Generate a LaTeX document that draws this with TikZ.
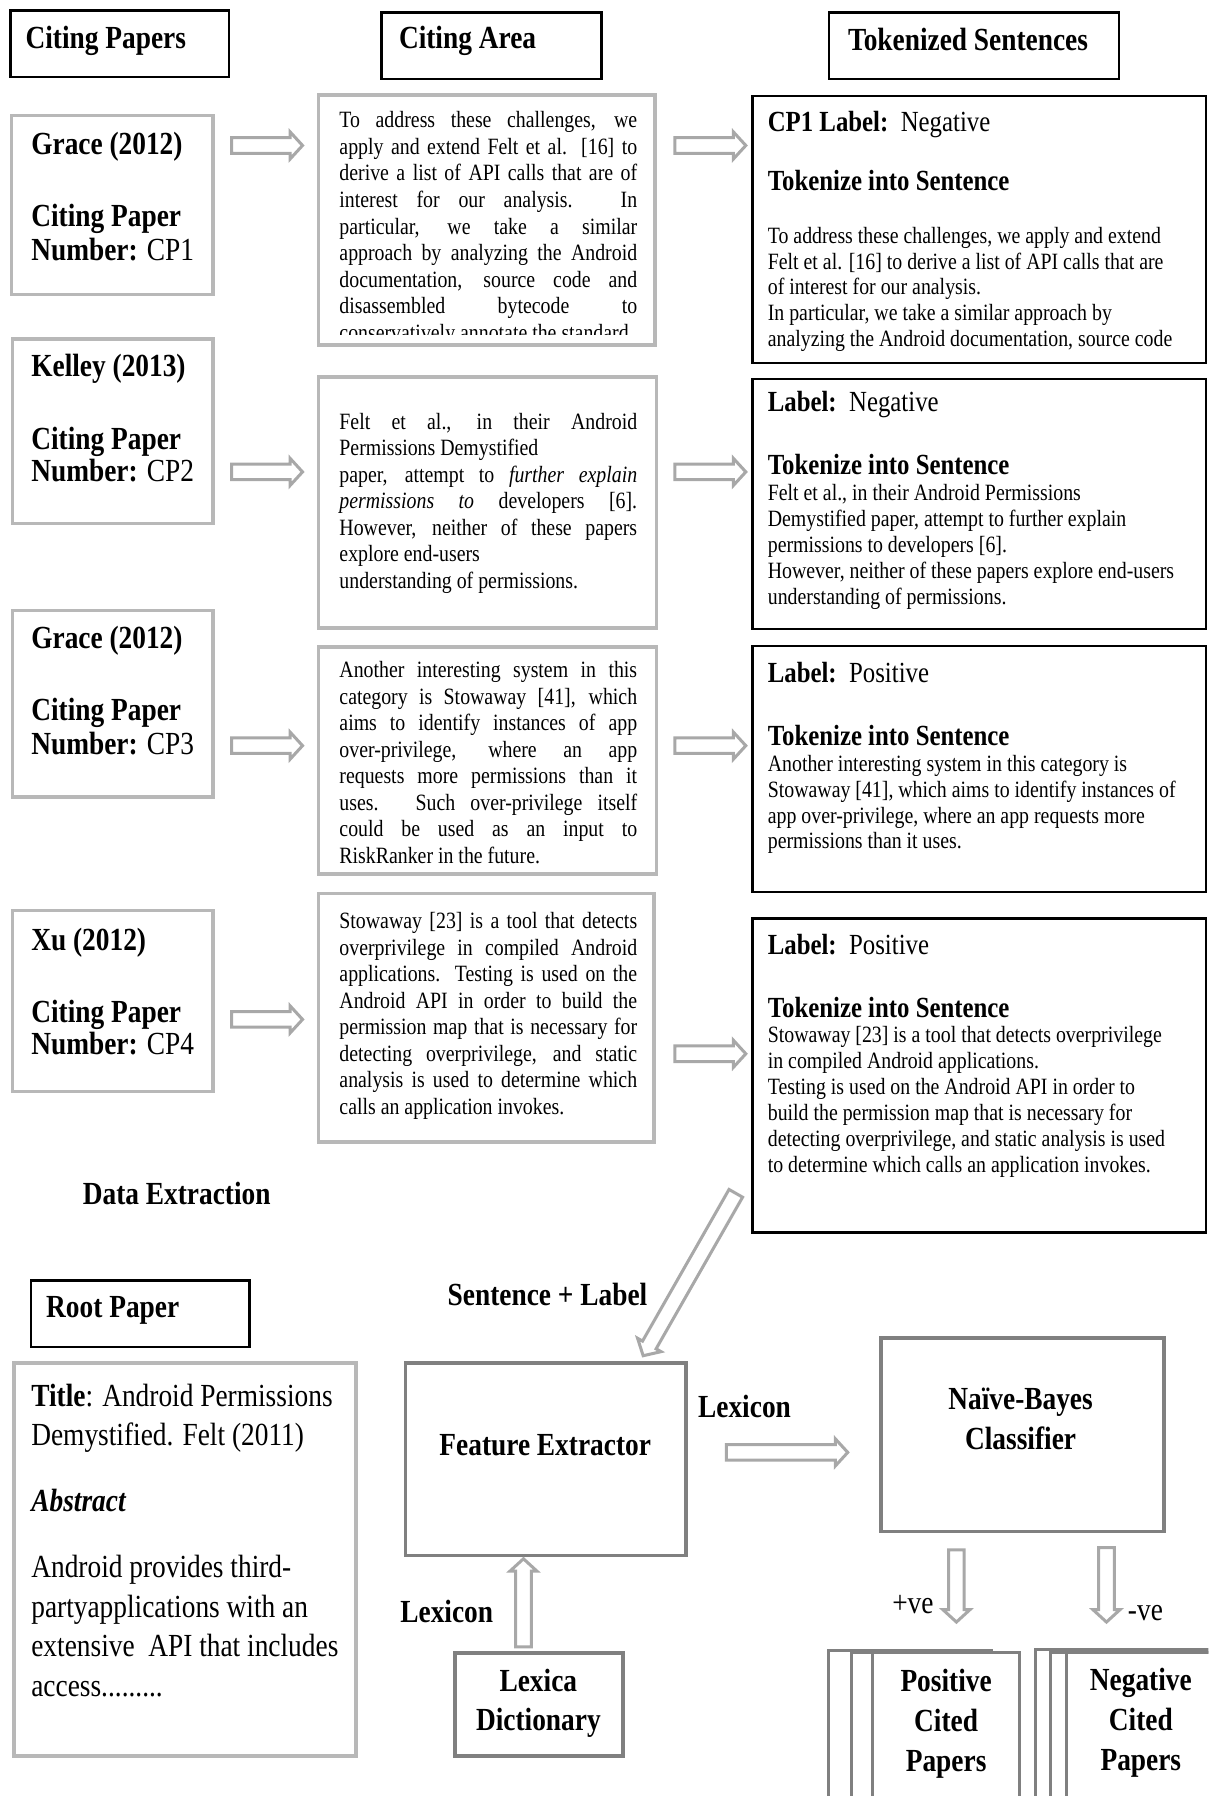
\documentclass[tikz,border=0pt]{standalone}
\usepackage{fontspec}
\setmainfont[FakeStretch=0.85]{Liberation Serif}
\usetikzlibrary{shapes.arrows,calc,fit}
\definecolor{lgray}{RGB}{184,184,184}
\definecolor{dgray}{RGB}{128,128,128}
\definecolor{agray}{RGB}{168,168,168}
\newcommand\fsm{\fontsize{11.6pt}{12.9pt}\selectfont}
\newcommand\fmd{\fontsize{11.6pt}{13.2pt}\selectfont}
\newcommand\fhd{\fontsize{14.5pt}{17pt}\selectfont}
\newcommand\fbg{\fontsize{16pt}{19.7pt}\selectfont}
\newcommand\nohyph{\hyphenpenalty=10000\relax\exhyphenpenalty=10000\relax}
\newcommand\hollowarrow[2]{%
  \path let \p1=($(#2)-(#1)$), \n1={veclen(\x1,\y1)}, \n2={atan2(\y1,\x1)} in
    ($(#1)!0.5!(#2)$) node[harr, minimum height=\n1, rotate=\n2] {};}
\begin{document}
\begin{tikzpicture}[x=0.02cm,y=-0.02cm,
  blk/.style={draw=black,line width=1.2pt,inner sep=0pt},
  gbx/.style={draw=lgray,line width=1.8pt,inner sep=0pt},
  dbx/.style={draw=dgray,line width=1.8pt,inner sep=0pt},
  page/.style={draw=dgray,line width=1.5pt,fill=white},
  harr/.style={single arrow,draw=agray,fill=white,line width=1.5pt,inner xsep=0pt,inner ysep=0.11cm,
    single arrow head extend=0.1cm,single arrow tip angle=95,minimum width=0pt},
  lbl/.style={inner sep=0pt,anchor=base west,font=\fbg},
  hdg/.style={inner sep=0pt,anchor=base west,font=\fhd},
  midtxt/.style={inner sep=0pt,anchor=north west,text width=5.2cm,align=justify,
    font=\fmd\nohyph},
  rtxt/.style={inner sep=0pt,anchor=north west,align=left,font=\fsm},
  ctr/.style={inner sep=0pt,align=center,font=\fbg\bfseries}]
\useasboundingbox (0,0) rectangle (1055,1568);
\clip (0,0) rectangle (1055,1568);
\fill[white] (0,0) rectangle (1055,1568);

% headers
\node[blk,fit={(9,9)(200,67)}] (HP) {};
\node[lbl,font=\fbg\bfseries] (HPt) at (22,42) {Citing Papers};
\node[blk,fit={(333,11)(525,69)}] (HA) {};
\node[lbl,font=\fbg\bfseries] (HAt) at (348,42) {Citing Area};
\node[blk,fit={(724,11)(977,69)}] (HT) {};
\node[lbl,font=\fbg\bfseries] (HTt) at (740,44) {Tokenized Sentences};

% citing papers
\node[gbx,fit={(10,101)(186,257)}] (CP1) {};
\node[lbl] (CP1a) at (27,135) {\textbf{Grace (2012)}};
\node[lbl] (CP1b) at (27,198) {\textbf{Citing Paper}};
\node[lbl] (CP1c) at (27,227) {\textbf{Number:} CP1};
\node[gbx,fit={(11,296)(186,457)}] (CP2) {};
\node[lbl] (CP2a) at (27,329) {\textbf{Kelley (2013)}};
\node[lbl] (CP2b) at (27,392) {\textbf{Citing Paper}};
\node[lbl] (CP2c) at (27,420) {\textbf{Number:} CP2};
\node[gbx,fit={(11,533)(186,696)}] (CP3) {};
\node[lbl] (CP3a) at (27,566) {\textbf{Grace (2012)}};
\node[lbl] (CP3b) at (27,629) {\textbf{Citing Paper}};
\node[lbl] (CP3c) at (27,659) {\textbf{Number:} CP3};
\node[gbx,fit={(11,795)(186,953)}] (CP4) {};
\node[lbl] (CP4a) at (27,830) {\textbf{Xu (2012)}};
\node[lbl] (CP4b) at (27,893) {\textbf{Citing Paper}};
\node[lbl] (CP4c) at (27,921) {\textbf{Number:} CP4};

% citing area
\node[gbx,fit={(278,83)(572,301)}] (A1) {};
\begin{scope}
\clip (280,85) rectangle (570,292);
\node[midtxt] (A1t) at (296,95) {\strut To address these challenges, we\linebreak
apply and extend Felt et al. [16] to\linebreak
derive a list of API calls that are of\linebreak
interest for our analysis. In\linebreak
particular, we take a similar\linebreak
approach by analyzing the Android\linebreak
documentation, source code and\linebreak
disassembled bytecode to\linebreak
conservatively annotate the standard};
\end{scope}
\node[gbx,fit={(278,329)(573,548)}] (A2) {};
\node[midtxt] (A2t) at (296,358) {\strut Felt et al., in their Android\linebreak
Permissions Demystified\\
paper, attempt to \textit{further explain}\linebreak
\textit{permissions to} developers [6].\linebreak
However, neither of these papers\linebreak
explore end-users\\
understanding of permissions.};
\node[gbx,fit={(278,565)(573,763)}] (A3) {};
\node[midtxt] (A3t) at (296,575) {\strut Another interesting system in this\linebreak
category is Stowaway [41], which\linebreak
aims to identify instances of app\linebreak
over-privilege, where an app\linebreak
requests more permissions than it\linebreak
uses. Such over-privilege itself\linebreak
could be used as an input to\linebreak
RiskRanker in the future.};
\node[gbx,fit={(278,780)(571,997)}] (A4) {};
\node[midtxt] (A4t) at (296,794) {\strut Stowaway [23] is a tool that detects\linebreak
overprivilege in compiled Android\linebreak
applications. Testing is used on the\linebreak
Android API in order to build the\linebreak
permission map that is necessary for\linebreak
detecting overprivilege, and static\linebreak
analysis is used to determine which\linebreak
calls an application invokes.};

% tokenized sentences
\node[blk,fit={(657,84)(1053,317)}] (T1) {};
\node[hdg] (T1a) at (670,115) {\textbf{CP1 Label:}\ \ Negative};
\node[hdg] (T1b) at (670,166) {\textbf{Tokenize into Sentence}};
\node[rtxt] (T1t) at (670,196) {\strut To address these challenges, we apply and extend\\
Felt et al. [16] to derive a list of API calls that are\\
of interest for our analysis.\\
In particular, we take a similar approach by\\
analyzing the Android documentation, source code};
\node[blk,fit={(657,331)(1053,549)}] (T2) {};
\node[hdg] (T2a) at (670,359) {\textbf{Label:}\ \ Negative};
\node[hdg] (T2b) at (670,414) {\textbf{Tokenize into Sentence}};
\node[rtxt] (T2t) at (670,421) {\strut Felt et al., in their Android Permissions\\
Demystified paper, attempt to further explain\\
permissions to developers [6].\\
However, neither of these papers explore end-users\\
understanding of permissions.};
\node[blk,fit={(657,564)(1053,779)}] (T3) {};
\node[hdg] (T3a) at (670,596) {\textbf{Label:}\ \ Positive};
\node[hdg] (T3b) at (670,651) {\textbf{Tokenize into Sentence}};
\node[rtxt] (T3t) at (670,657) {\strut Another interesting system in this category is\\
Stowaway [41], which aims to identify instances of\\
app over-privilege, where an app requests more\\
permissions than it uses.};
\node[blk,fit={(657,802)(1053,1076)}] (T4) {};
\node[hdg] (T4a) at (670,833) {\textbf{Label:}\ \ Positive};
\node[hdg] (T4b) at (670,888) {\textbf{Tokenize into Sentence}};
\node[rtxt] (T4t) at (670,894) {\strut Stowaway [23] is a tool that detects overprivilege\\
in compiled Android applications.\\
Testing is used on the Android API in order to\\
build the permission map that is necessary for\\
detecting overprivilege, and static analysis is used\\
to determine which calls an application invokes.};

% arrows between columns
\coordinate (h1s) at (199,127); \coordinate (h1e) at (261,127);
\coordinate (h2s) at (199,412); \coordinate (h2e) at (261,412);
\coordinate (h3s) at (199,651); \coordinate (h3e) at (261,651);
\coordinate (h4s) at (199,890); \coordinate (h4e) at (261,890);
\coordinate (g1s) at (586,127); \coordinate (g1e) at (648,127);
\coordinate (g2s) at (586,412); \coordinate (g2e) at (648,412);
\coordinate (g3s) at (586,651); \coordinate (g3e) at (648,651);
\coordinate (g4s) at (586,920); \coordinate (g4e) at (648,920);
\hollowarrow{h1s}{h1e} \hollowarrow{h2s}{h2e} \hollowarrow{h3s}{h3e} \hollowarrow{h4s}{h4e}
\hollowarrow{g1s}{g1e} \hollowarrow{g2s}{g2e} \hollowarrow{g3s}{g3e} \hollowarrow{g4s}{g4e}

\node[lbl,font=\fbg\bfseries] (DE) at (72,1052) {Data Extraction};

% lower part
\node[blk,fit={(27,1118)(218,1176)}] (RP) {};
\node[lbl,font=\fbg\bfseries] (RPh) at (40,1150) {Root Paper};
\node[gbx,fit={(12,1190)(311,1533)}] (RC) {};
\node[rtxt,font=\fbg] (RCt) at (27,1203) {\strut\textbf{Title}: Android Permissions\\
Demystified. Felt (2011)\\[13pt]
\textbf{\textit{Abstract}}\\[13pt]
Android provides third-\\
partyapplications with an\\
extensive\ \ API that includes\\
access.........};

\node[dbx,fit={(354,1190)(599,1358)}] (FE) {};
\node[ctr] (FEt) at (476,1262) {Feature Extractor};
\node[dbx,fit={(769,1168)(1016,1337)}] (NB) {};
\node[ctr] (NBt) at (891,1239) {Naïve-Bayes\\Classifier};
\node[dbx,fit={(397,1443)(544,1533)}] (LD) {};
\node[ctr] (LDt) at (470,1487) {Lexica\\Dictionary};

\node[ctr] (SL) at (478,1130) {Sentence + Label};
\node[ctr] (LX1) at (650,1228) {Lexicon};
\node[ctr] (LX2) at (390,1407) {Lexicon};
\node[ctr,font=\fbg] (PV) at (797,1401) {+ve};
\node[ctr,font=\fbg] (NV) at (1000,1408) {-ve};

% result stacks
\draw[page] (723,1441) rectangle (866,1600);
\draw[page] (743,1443) rectangle (880,1600);
\draw[page] (762,1443) rectangle (890,1600);
\node[ctr] (PC) at (826,1505) {Positive\\Cited\\Papers};
\draw[page] (904,1440) rectangle (1070,1600);
\draw[page] (917,1443) rectangle (1070,1600);
\draw[page] (931,1443) rectangle (1070,1600);
\node[ctr] (NC) at (996,1504) {Negative\\Cited\\Papers};

\coordinate (d1s) at (644,1039); \coordinate (d1e) at (563,1181);
\coordinate (fns) at (631,1268); \coordinate (fne) at (737,1268);
\coordinate (lfs) at (457,1441); \coordinate (lfe) at (457,1364);
\coordinate (nps) at (835,1350); \coordinate (npe) at (835,1413);
\coordinate (nns) at (966,1348); \coordinate (nne) at (966,1413);
\hollowarrow{d1s}{d1e}
\hollowarrow{fns}{fne}
\hollowarrow{lfs}{lfe}
\hollowarrow{nps}{npe}
\hollowarrow{nns}{nne}
\end{tikzpicture}
\end{document}
